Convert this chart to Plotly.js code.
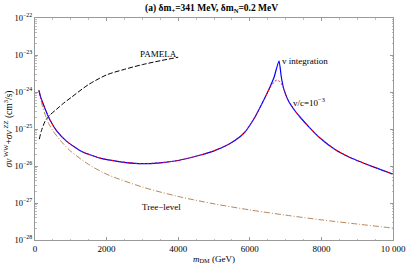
<!DOCTYPE html>
<html><head><meta charset="utf-8">
<script src="https://cdn.plot.ly/plotly-3.0.1.min.js"></script>
<style>html,body{margin:0;padding:0;background:#fff}</style>
</head><body><div id="g" style="width:407px;height:266px"></div>
<script>
// v integration (blue)
const mVint = [110,150,232,300,419,600,885,1300,1816,2300,2900,3500,4000,4600,5000,5400,5726,5866,6006,6146,6285,6425,6564,6676,6816,6880,6950,7067,7235,7402,7682,7961,8380,8799,9413,10000];
const sVint = [1.1e-24,7.7e-25,4.65e-25,3.16e-25,1.75e-25,9.0e-26,4.62e-26,2.47e-26,1.63e-26,1.34e-26,1.16e-26,1.22e-26,1.41e-26,1.95e-26,2.57e-26,3.81e-26,6.2e-26,8.3e-26,1.28e-25,2.11e-25,3.81e-25,7.1e-25,1.37e-24,2.47e-24,7e-24,2.54e-24,1.2e-24,6.08e-25,3.37e-25,2.11e-25,1.06e-25,5.7e-26,2.79e-26,1.7e-26,9.8e-27,6e-27];
// v/c = 1e-3 (red dashed)
const mV3 = [110,150,232,300,419,600,885,1300,1816,2300,2900,3500,4000,4600,5000,5400,5726,5866,6006,6146,6285,6425,6564,6676,6750,6816,6880,6950,7067,7235,7402,7682,7961,8380,8799,9413,10000];
const sV3 = [1.1e-24,7.7e-25,4.65e-25,3.16e-25,1.75e-25,9.0e-26,4.62e-26,2.47e-26,1.63e-26,1.34e-26,1.16e-26,1.22e-26,1.41e-26,1.95e-26,2.57e-26,3.81e-26,6.2e-26,8.3e-26,1.28e-25,2.11e-25,3.81e-25,7.1e-25,1.3e-24,1.85e-24,2.1e-24,2.0e-24,1.7e-24,1.2e-24,6.08e-25,3.37e-25,2.11e-25,1.06e-25,5.7e-26,2.79e-26,1.7e-26,9.8e-27,6e-27];
// Tree-level
const mTree = [110,150,200,300,400,500,700,1000,1500,2000,3000,4000,5000,6000,7000,8000,9000,10000];
const sTree = [1.1e-24,7.5e-25,4.4e-25,2.2e-25,1.3e-25,9e-26,5e-26,2.5e-26,1.1e-26,6e-27,2.7e-27,1.5e-27,9.5e-28,6.5e-28,4.7e-28,3.5e-28,2.7e-28,2.1e-28];
// PAMELA bound
const mPam = [120,180,280,400,600,800,1000,1500,2000,2500,3000,3500,4000];
const sPam = [5.3e-26,9e-26,1.6e-25,2.3e-25,3.4e-25,5e-25,7e-25,1.6e-24,2.9e-24,4.1e-24,5.5e-24,7e-24,8.7e-24];

const yTickVals = [1e-28,1e-27,1e-26,1e-25,1e-24,1e-23,1e-22];
const yTickText = ['10<sup>−28</sup>','10<sup>−27</sup>','10<sup>−26</sup>','10<sup>−25</sup>','10<sup>−24</sup>','10<sup>−23</sup>','10<sup>−22</sup>'];
const xTickVals = [0,2000,4000,6000,8000,10000];
const xTickText = ['0','2000','4000','6000','8000','10 000'];

const font = {family:'Liberation Serif, Times New Roman, serif', color:'#000', size:9};
const traces = [
 {x:mPam,y:sPam,mode:'lines',line:{color:'#000',width:1,dash:'5px,2px',shape:'spline',smoothing:0.8},hoverinfo:'skip'},
 {x:mTree,y:sTree,mode:'lines',line:{color:'#b9875a',width:1,dash:'6px,2px,1px,2px',shape:'spline',smoothing:0.8},hoverinfo:'skip'},
 {x:mVint,y:sVint,mode:'lines',line:{color:'#0000ff',width:1.2,shape:'spline',smoothing:0.5},hoverinfo:'skip'},
 {x:mV3,y:sV3,mode:'lines',line:{color:'#ff0000',width:1,dash:'2px,2px',shape:'spline',smoothing:0.5},hoverinfo:'skip'}
];
const layout = {
 width:407,height:266,margin:{l:35,r:14,t:18,b:26},
 showlegend:false,paper_bgcolor:'#fff',plot_bgcolor:'#fff',font:font,
 title:{text:'<b>(a) δm<sub>+</sub>=341 MeV, δm<sub>N</sub>=0.2 MeV</b>',x:0.52,xanchor:'center',y:0.985,yanchor:'top',font:{family:font.family,size:9.5,color:'#000'}},
 xaxis:{range:[0,10000],tickvals:xTickVals,ticktext:xTickText,ticks:'inside',ticklen:3,tickcolor:'#999',
   showgrid:false,zeroline:false,showline:true,linecolor:'#999',linewidth:1,mirror:'ticks',
   minor:{ticks:'inside',ticklen:1.5,tickcolor:'#bbb',dtick:500},
   title:{text:'<i>m</i><sub>DM</sub> (GeV)',standoff:2,font:{family:font.family,size:9}},tickfont:{size:9}},
 yaxis:{type:'log',range:[-28,-22],tickvals:yTickVals,ticktext:yTickText,ticks:'inside',ticklen:3,tickcolor:'#999',
   showgrid:false,zeroline:false,showline:true,linecolor:'#999',linewidth:1,mirror:'ticks',
   minor:{ticks:'inside',ticklen:1.5,tickcolor:'#bbb',dtick:'D1'},
   title:{text:'<i>σv</i><sup> WW</sup>+<i>σv</i><sup> ZZ</sup> (cm<sup>3</sup>/s)',standoff:0,font:{family:font.family,size:9.5}},tickfont:{size:8.5}},
 annotations:[
  {x:3460,y:Math.log10(1.05e-23),text:'PAMELA',showarrow:false,xanchor:'center',yanchor:'middle',font:{size:9}},
  {x:6844,y:Math.log10(6.9e-24),text:'v integration',showarrow:false,xanchor:'left',yanchor:'middle',font:{size:9}},
  {x:7140,y:Math.log10(5.5e-25),text:'v/c=10<sup>−3</sup>',showarrow:false,xanchor:'left',yanchor:'middle',font:{size:9}},
  {x:3540,y:Math.log10(7.9e-28),text:'Tree−level',showarrow:false,xanchor:'center',yanchor:'middle',font:{size:9}}
 ]
};
Plotly.newPlot('g',traces,layout,{staticPlot:true,displayModeBar:false});
</script></body></html>
